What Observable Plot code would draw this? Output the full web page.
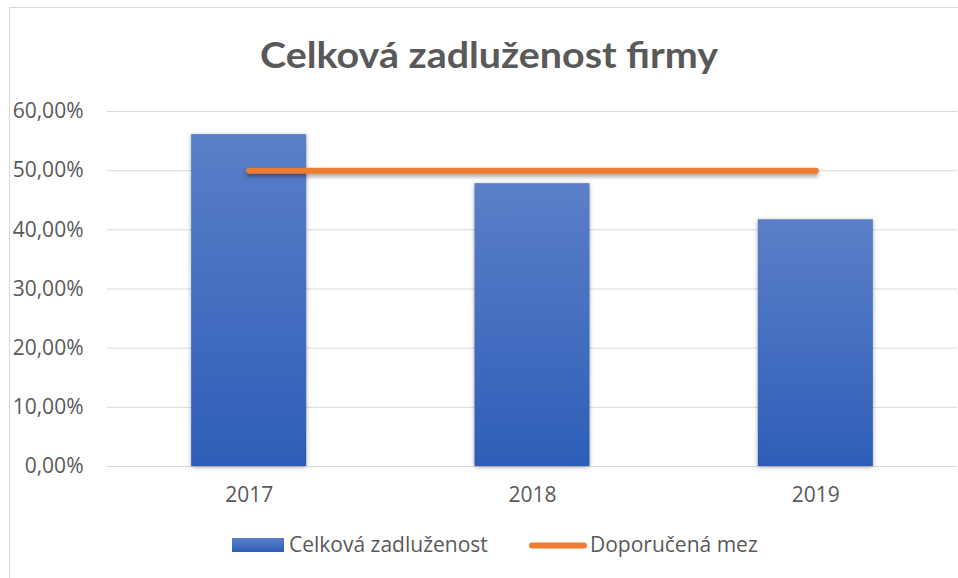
<!DOCTYPE html>
<html>
<head>
<meta charset="utf-8">
<script src="https://cdn.jsdelivr.net/npm/d3@7"></script>
<script src="https://cdn.jsdelivr.net/npm/@observablehq/plot@0.6"></script>
<style>
  html, body { margin: 0; padding: 0; background: #fff; }
  #wrap { position: relative; width: 958px; height: 578px; overflow: hidden; background: #fff; }
  #frame { position: absolute; left: 9px; top: 7px; width: 960px; height: 590px; border: 1px solid #d9d9d9; box-sizing: border-box; }
  #chart { position: absolute; left: 0; top: 0; }
  #overlay { position: absolute; left: 0; top: 0; pointer-events: none; }
</style>
</head>
<body>
<div id="wrap">
  <div id="frame"></div>
  <div id="chart"></div>
  <svg id="overlay" width="958" height="578"></svg>
</div>
<script>
// ---- data ----
const years = ["2017", "2018", "2019"];
const debt = [0.561, 0.478, 0.417];          // Celková zadluženost
const limit = [0.5, 0.5, 0.5];               // Doporučená mez
const yTicks = [0, 0.1, 0.2, 0.3, 0.4, 0.5, 0.6];
const title = "Celková zadluženost firmy";
const seriesNames = ["Celková zadluženost", "Doporučená mez"];

const data = years.map((y, i) => ({year: y, debt: debt[i], limit: limit[i]}));
const fmt = d => (d * 100).toFixed(2).replace(".", ",") + "%";

const textColor = "#595959";
const gridColor = "#d9d9d9";
const orange = "#ED7D31";

const chart = Plot.plot({
  width: 958,
  height: 578,
  marginLeft: 107,
  marginRight: 1,
  marginTop: 111,
  marginBottom: 112,
  style: {fontFamily: '"Open Sans", sans-serif', fontSize: "21px", color: textColor, background: "transparent", overflow: "visible"},
  x: {domain: years, paddingInner: 0.594, paddingOuter: 0.297, round: false, label: null, tickSize: 0, tickPadding: 21},
  y: {domain: [0, 0.6], ticks: yTicks, tickFormat: fmt, label: null, tickSize: 0, tickPadding: 24},
  marks: [
    Plot.ruleY(yTicks, {stroke: gridColor, strokeWidth: 1}),
    Plot.barY(data, {x: "year", y: "debt", fill: "url(#barGrad)"}),
    Plot.line(data, {x: "year", y: "limit", stroke: orange, strokeWidth: 6, strokeLinecap: "round"})
  ]
});
document.getElementById("chart").appendChild(chart);

// gradient defs + shadows
const svg = d3.select(chart);
const defs = svg.insert("defs", ":first-child");
const g = defs.append("linearGradient").attr("id", "barGrad").attr("x1", 0).attr("y1", 0).attr("x2", 0).attr("y2", 1);
g.append("stop").attr("offset", "0%").attr("stop-color", "#5B7FC8");
g.append("stop").attr("offset", "100%").attr("stop-color", "#2E5EB8");
svg.selectAll('[fill="url(#barGrad)"]').style("filter", "drop-shadow(0px 1px 2px rgba(0,0,0,0.35))");
svg.selectAll('[stroke="' + orange + '"]').style("filter", "drop-shadow(0px 3px 2px rgba(0,0,0,0.35))");

// title + legend
const ov = d3.select("#overlay");
const od = ov.append("defs");
const g2 = od.append("linearGradient").attr("id", "legGrad").attr("x1", 0).attr("y1", 0).attr("x2", 0).attr("y2", 1);
g2.append("stop").attr("offset", "0%").attr("stop-color", "#5B7FC8");
g2.append("stop").attr("offset", "100%").attr("stop-color", "#2E5EB8");

ov.append("text")
  .attr("x", 489).attr("y", 68)
  .attr("text-anchor", "middle")
  .attr("fill", textColor)
  .attr("font-family", 'Lato, "Open Sans", sans-serif')
  .attr("font-weight", 700)
  .attr("font-size", 37)
  .attr("textLength", 458)
  .attr("lengthAdjust", "spacingAndGlyphs")
  .text(title);

ov.append("rect").attr("x", 232).attr("y", 538).attr("width", 52).attr("height", 14).attr("fill", "url(#legGrad)");
ov.append("text").attr("x", 289).attr("y", 552)
  .attr("fill", textColor).attr("font-family", '"Open Sans", sans-serif').attr("font-size", 21)
  .text(seriesNames[0]);
ov.append("line").attr("x1", 532).attr("x2", 584).attr("y1", 545.5).attr("y2", 545.5)
  .attr("stroke", orange).attr("stroke-width", 6).attr("stroke-linecap", "round");
ov.append("text").attr("x", 590).attr("y", 552)
  .attr("fill", textColor).attr("font-family", '"Open Sans", sans-serif').attr("font-size", 21)
  .text(seriesNames[1]);
</script>
</body>
</html>
